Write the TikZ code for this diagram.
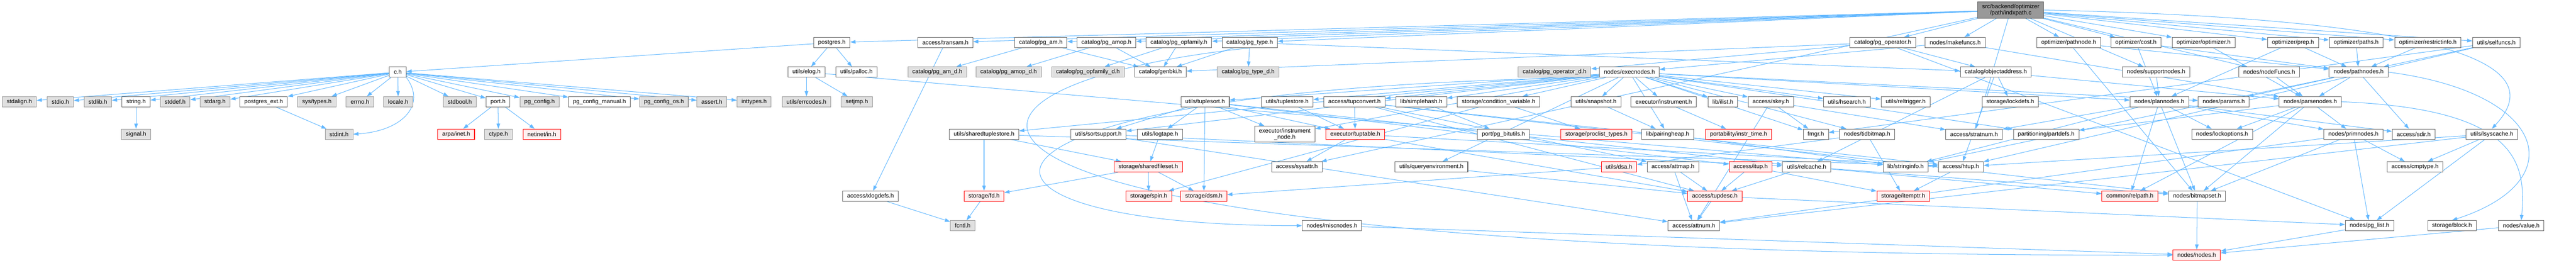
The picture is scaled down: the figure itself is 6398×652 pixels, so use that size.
\documentclass[tikz,border=0pt]{standalone}
\usepackage{fontspec}
\setmainfont{Liberation Sans}
\usetikzlibrary{arrows.meta}
\definecolor{edgec}{HTML}{63B8FF}
\definecolor{nodeb}{HTML}{666666}
\definecolor{grayb}{HTML}{999999}
\definecolor{grayf}{HTML}{E0E0E0}
\definecolor{redb}{HTML}{FF0000}
\definecolor{redf}{HTML}{FFF0F0}
\definecolor{rootf}{HTML}{999999}
\definecolor{rootb}{HTML}{666666}
\pgfdeclarelayer{bg}
\pgfsetlayers{bg,main}
\begin{document}
\begin{tikzpicture}[x=1pt,y=-1pt,
  font=\fontsize{14.6}{15}\selectfont,
  box/.style={draw=nodeb, fill=white, line width=1.3pt, minimum height=25.5pt, inner xsep=11pt, inner ysep=2pt},
  gbox/.style={box, draw=grayb, fill=grayf},
  rbox/.style={box, draw=redb, fill=redf},
  rootbox/.style={box, fill=rootf, draw=rootb, align=center, minimum height=40pt},
  twoline/.style={box, align=center, minimum height=40pt},
  edge/.style={draw=edgec, line width=1.3pt, -{Triangle[length=13pt,width=9pt]}}]
\useasboundingbox (0,0) rectangle (6398,652);
% row 0
\node[rootbox] (root) at (4994,25) {src/backend/optimizer\\/path/indxpath.c};
% row 1
\node[box] (postgres) at (2066,105.5) {postgres.h};
\node[box] (transam) at (2348,105.5) {access/transam.h};
\node[box] (pgam) at (2585,105.5) {catalog/pg\_am.h};
\node[box] (pgamop) at (2748,105.5) {catalog/pg\_amop.h};
\node[box] (pgopf) at (2928,105.5) {catalog/pg\_opfamily.h};
\node[box] (pgtype) at (3104,105.5) {catalog/pg\_type.h};
\node[box] (pgoper) at (4676,105.5) {catalog/pg\_operator.h};
\node[box] (makefuncs) at (4856,105.5) {nodes/makefuncs.h};
\node[box] (pathnode) at (5138,105.5) {optimizer/pathnode.h};
\node[box] (cost) at (5305,105.5) {optimizer/cost.h};
\node[box] (optimizer) at (5473,105.5) {optimizer/optimizer.h};
\node[box] (prep) at (5695,105.5) {optimizer/prep.h};
\node[box] (paths) at (5852,105.5) {optimizer/paths.h};
\node[box] (restrictinfo) at (6030,105.5) {optimizer/restrictinfo.h};
\node[box] (selfuncs) at (6200,105.5) {utils/selfuncs.h};
% row 2
\node[box] (ch) at (988,179) {c.h};
\node[box] (elog) at (2003,179) {utils/elog.h};
\node[box] (palloc) at (2127,179) {utils/palloc.h};
\node[gbox] (pgamd) at (2328,179) {catalog/pg\_am\_d.h};
\node[gbox] (pgamopd) at (2505,179) {catalog/pg\_amop\_d.h};
\node[gbox] (pgopfd) at (2702,179) {catalog/pg\_opfamily\_d.h};
\node[box] (genbki) at (2882,179) {catalog/genbki.h};
\node[gbox] (pgtyped) at (3100,179) {catalog/pg\_type\_d.h};
\node[gbox] (pgoperd) at (3861,179) {catalog/pg\_operator\_d.h};
\node[box] (execnodes) at (4047,179) {nodes/execnodes.h};
\node[box] (objaddr) at (4957,179) {catalog/objectaddress.h};
\node[box] (supportnodes) at (5355,179) {nodes/supportnodes.h};
\node[box] (nodefuncs) at (5636,179) {nodes/nodeFuncs.h};
\node[box] (pathnodes) at (5858,179) {nodes/pathnodes.h};
% row 3
\node[gbox] (stdalign) at (48,252.5) {stdalign.h};
\node[gbox] (stdio) at (150,252.5) {stdio.h};
\node[gbox] (stdlib) at (243,252.5) {stdlib.h};
\node[box] (stringh) at (338,252.5) {string.h};
\node[gbox] (stddef) at (435,252.5) {stddef.h};
\node[gbox] (stdarg) at (534,252.5) {stdarg.h};
\node[box] (pgext) at (655,252.5) {postgres\_ext.h};
\node[gbox] (systypes) at (787,252.5) {sys/types.h};
\node[gbox] (errno) at (894,252.5) {errno.h};
\node[gbox] (locale) at (989,252.5) {locale.h};
\node[gbox] (stdbool) at (1142,252.5) {stdbool.h};
\node[box] (port) at (1237,252.5) {port.h};
\node[gbox] (pgconfig) at (1340,252.5) {pg\_config.h};
\node[box] (pgcfgman) at (1489,252.5) {pg\_config\_manual.h};
\node[gbox] (pgcfgos) at (1649,252.5) {pg\_config\_os.h};
\node[gbox] (assert) at (1768,252.5) {assert.h};
\node[gbox] (inttypes) at (1873,252.5) {inttypes.h};
\node[gbox] (errcodes) at (2003,252.5) {utils/errcodes.h};
\node[gbox] (setjmp) at (2128,252.5) {setjmp.h};
\node[box] (tuplesort) at (2993,252.5) {utils/tuplesort.h};
\node[box] (tuplestore) at (3197,252.5) {utils/tuplestore.h};
\node[box] (tupconvert) at (3364,252.5) {access/tupconvert.h};
\node[box] (simplehash) at (3530,252.5) {lib/simplehash.h};
\node[box] (condvar) at (3722,252.5) {storage/condition\_variable.h};
\node[box] (snapshot) at (3964,252.5) {utils/snapshot.h};
\node[box] (instrument) at (4132,252.5) {executor/instrument.h};
\node[box] (ilist) at (4279,252.5) {lib/ilist.h};
\node[box] (skey) at (4398,252.5) {access/skey.h};
\node[box] (hsearch) at (4587,252.5) {utils/hsearch.h};
\node[box] (reltrigger) at (4733,252.5) {utils/reltrigger.h};
\node[box] (lockdefs) at (4993,252.5) {storage/lockdefs.h};
\node[box] (plannodes) at (5363,252.5) {nodes/plannodes.h};
\node[box] (params) at (5523,252.5) {nodes/params.h};
\node[box] (parsenodes) at (5738,252.5) {nodes/parsenodes.h};
% row 4
\node[gbox] (signal) at (338,333) {signal.h};
\node[gbox] (stdint) at (842,333) {stdint.h};
\node[rbox] (arpainet) at (1133,333) {arpa/inet.h};
\node[gbox] (ctype) at (1238,333) {ctype.h};
\node[rbox] (netinet) at (1346,333) {netinet/in.h};
\node[box] (sharedts) at (2444,333) {utils/sharedtuplestore.h};
\node[box] (sortsupport) at (2728,333) {utils/sortsupport.h};
\node[box] (logtape) at (2881,333) {utils/logtape.h};
\node[twoline] (instrnode) at (3191,333) {executor/instrument\\\_node.h};
\node[rbox] (tuptable) at (3366,333) {executor/tuptable.h};
\node[box] (bitutils) at (3734,333) {port/pg\_bitutils.h};
\node[rbox] (proclist) at (3965,333) {storage/proclist\_types.h};
\node[box] (pairingheap) at (4142,333) {lib/pairingheap.h};
\node[rbox] (instrtime) at (4318,333) {portability/instr\_time.h};
\node[box] (fmgr) at (4510,333) {fmgr.h};
\node[box] (tidbitmap) at (4637,333) {nodes/tidbitmap.h};
\node[box] (stratnum) at (4903,333) {access/stratnum.h};
\node[box] (partdefs) at (5082,333) {partitioning/partdefs.h};
\node[box] (lockoptions) at (5519,333) {nodes/lockoptions.h};
\node[box] (primnodes) at (5845,333) {nodes/primnodes.h};
\node[box] (sdir) at (5995,333) {access/sdir.h};
\node[box] (lsyscache) at (6189,333) {utils/lsyscache.h};
% row 5
\node[rbox] (sharedfs) at (2852,414) {storage/sharedfileset.h};
\node[box] (sysattr) at (3221,414) {access/sysattr.h};
\node[box] (queryenv) at (3555,414) {utils/queryenvironment.h};
\node[rbox] (dsa) at (4021,414) {utils/dsa.h};
\node[box] (attmap) at (4155,414) {access/attmap.h};
\node[rbox] (itup) at (4348,414) {access/itup.h};
\node[box] (relcache) at (4487,414) {utils/relcache.h};
\node[box] (stringinfo) at (4733,414) {lib/stringinfo.h};
\node[box] (htup) at (4870,414) {access/htup.h};
\node[box] (cmptype) at (5998,414) {access/cmptype.h};
% row 6
\node[box] (xlogdefs) at (2162,487) {access/xlogdefs.h};
\node[rbox] (fd) at (2444,487) {storage/fd.h};
\node[rbox] (spin) at (2853,487) {storage/spin.h};
\node[rbox] (dsm) at (2990,487) {storage/dsm.h};
\node[rbox] (tupdesc) at (4259,487) {access/tupdesc.h};
\node[rbox] (itemptr) at (4727,487) {storage/itemptr.h};
\node[rbox] (relpath) at (5290,487) {common/relpath.h};
\node[box] (bitmapset) at (5457,487) {nodes/bitmapset.h};
% row 7
\node[gbox] (fcntl) at (2391,560) {fcntl.h};
\node[box] (miscnodes) at (3308,560) {nodes/miscnodes.h};
\node[box] (attnum) at (4207,560) {access/attnum.h};
\node[box] (pglist) at (5885,560) {nodes/pg\_list.h};
\node[box] (block) at (6090,560) {storage/block.h};
\node[box] (value) at (6262,560) {nodes/value.h};
% row 8
\node[rbox] (nodes) at (5456,633) {nodes/nodes.h};

\begin{pgfonlayer}{bg}
\foreach \s/\t in {
 root/postgres, root/transam, root/pgam, root/pgamop, root/pgopf, root/pgtype, root/pgoper, root/makefuncs,
 root/pathnode, root/cost, root/optimizer, root/prep, root/paths, root/restrictinfo, root/selfuncs,
 root/sysattr, root/stratnum, root/supportnodes, root/nodefuncs,
 postgres/ch, postgres/elog, postgres/palloc,
 ch/stdalign, ch/stdio, ch/stdlib, ch/stringh, ch/stddef, ch/stdarg, ch/pgext, ch/systypes, ch/errno, ch/locale,
 ch/stdbool, ch/port, ch/pgconfig, ch/pgcfgman, ch/pgcfgos, ch/assert, ch/inttypes,
 stringh/signal, pgext/stdint, port/arpainet, port/ctype, port/netinet,
 elog/errcodes, elog/setjmp, elog/stringinfo,
 transam/xlogdefs, xlogdefs/fcntl,
 pgam/pgamd, pgam/genbki, pgamop/pgamopd, pgamop/genbki, pgopf/pgopfd, pgopf/genbki,
 pgtype/genbki, pgtype/pgtyped, pgtype/objaddr,
 pgoper/genbki, pgoper/pgoperd, pgoper/objaddr, pgoper/pglist,
 objaddr/htup, objaddr/lockdefs, objaddr/relcache, objaddr/parsenodes,
 makefuncs/execnodes, makefuncs/parsenodes,
 execnodes/tupconvert, execnodes/instrument, execnodes/fmgr, execnodes/ilist, execnodes/pairingheap,
 execnodes/params, execnodes/plannodes, execnodes/tidbitmap, execnodes/partdefs, execnodes/condvar,
 execnodes/hsearch, execnodes/queryenv, execnodes/reltrigger, execnodes/sharedts, execnodes/snapshot,
 execnodes/sortsupport, execnodes/tuplesort, execnodes/tuplestore, execnodes/simplehash, execnodes/skey,
 execnodes/instrnode,
 supportnodes/plannodes,
 plannodes/sdir, plannodes/stratnum, plannodes/relpath, plannodes/stringinfo, plannodes/bitmapset,
 plannodes/lockoptions, plannodes/primnodes,
 parsenodes/relpath, parsenodes/bitmapset, parsenodes/lockoptions, parsenodes/primnodes, parsenodes/partdefs,
 primnodes/attnum, primnodes/cmptype, primnodes/bitmapset, primnodes/pglist,
 pathnodes/sdir, pathnodes/stringinfo, pathnodes/params, pathnodes/parsenodes,
 nodefuncs/parsenodes, pathnode/bitmapset, pathnode/pathnodes, cost/pathnodes, cost/plannodes,
 optimizer/parsenodes, prep/pathnodes, prep/plannodes, paths/pathnodes, restrictinfo/pathnodes,
 selfuncs/htup, selfuncs/fmgr, selfuncs/pathnodes,
 lsyscache/attnum, lsyscache/cmptype, lsyscache/htup, lsyscache/pglist,
 pglist/nodes, value/nodes, bitmapset/nodes, miscnodes/nodes,
 tupconvert/attmap, tupconvert/htup, tupconvert/tupdesc, tupconvert/tuptable, tupconvert/bitmapset,
 tuptable/sysattr, tuptable/htup, tuptable/tupdesc, tuplestore/tuptable,
 tuplesort/itup, tuplesort/tuptable, tuplesort/instrnode, tuplesort/dsm, tuplesort/logtape,
 tuplesort/relcache, tuplesort/sortsupport,
 sortsupport/attnum, sortsupport/relcache, logtape/sharedfs,
 sharedfs/fd, sharedfs/spin, sharedfs/dsm, fd/fcntl,
 sharedts/fd, sharedts/sharedfs, sharedts/htup,
 simplehash/bitutils, condvar/proclist, condvar/spin, snapshot/pairingheap, instrument/instrtime,
 pairingheap/stringinfo, queryenv/tupdesc, dsa/dsm, tidbitmap/itemptr, tidbitmap/dsa,
 attmap/attnum, attmap/tupdesc, tupdesc/attnum, tupdesc/pglist, itup/tupdesc, itup/itemptr,
 htup/itemptr, relcache/tupdesc, relcache/relpath, relcache/bitmapset,
 skey/attnum, skey/stratnum, skey/fmgr}
 \draw[edge] (\s) -- (\t);
% curved connectors
\draw[edge] (ch.south east) .. controls (1060,260) and (1000,325) .. (stdint.east);
\draw[edge] (root.east) .. controls (6260,50) and (6300,200) .. (lsyscache.north);
\draw[edge] (pathnodes.east) .. controls (6330,230) and (6390,450) .. (block.north);
\draw[edge] (parsenodes.east) .. controls (6250,270) and (6275,400) .. (value.north);
\draw[edge] (pgtype.south) .. controls (2150,220) and (2150,640) .. (nodes.west);
\draw[edge] (execnodes.south west) .. controls (2300,215) and (2250,560) .. (miscnodes.west);
\end{pgfonlayer}
\end{tikzpicture}
\end{document}
